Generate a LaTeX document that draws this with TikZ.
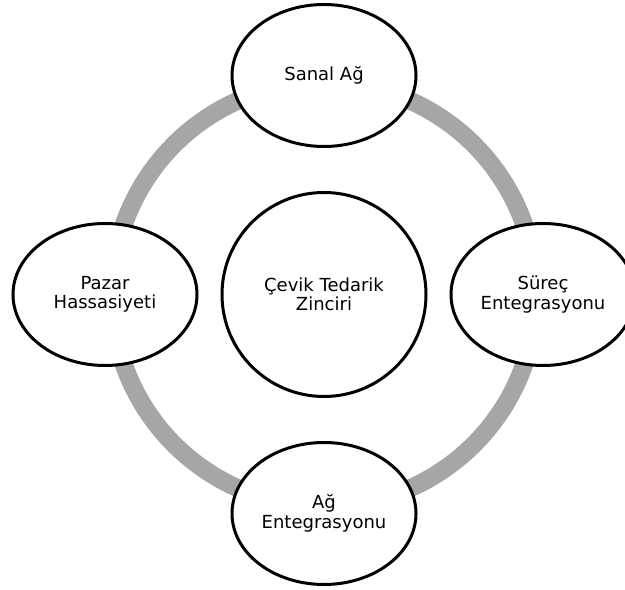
\documentclass[tikz,border=0pt]{standalone}
\usepackage{fontspec}
\setmainfont{DejaVu Sans}
\usetikzlibrary{shapes.geometric}
\definecolor{ringgray}{RGB}{166,166,166}
\begin{document}
\begin{tikzpicture}[x=1bp,y=1bp,
  part/.style={ellipse,draw,line width=3bp,fill=white,minimum width=184bp,minimum height=142bp,inner sep=0pt,align=center,font=\fontsize{18bp}{19.5bp}\selectfont},
  core/.style={circle,draw,line width=3bp,fill=white,minimum size=204bp,inner sep=0pt,align=center,font=\fontsize{18bp}{19.5bp}\selectfont}]
\useasboundingbox (0,0) rectangle (625,590);
\draw [ringgray, line width=18bp] (324,295.5) circle (212);
\node[core] (cevik) at (324,295.5) {Çevik Tedarik\\Zinciri};
\node[part] (sanal) at (324,514.5) {Sanal Ağ};
\node[part] (pazar) at (105,295.5) {Pazar\\Hassasiyeti};
\node[part] (surec) at (543,295.5) {Süreç\\Entegrasyonu};
\node[part] (agent) at (324,76.5) {Ağ\\Entegrasyonu};
\end{tikzpicture}
\end{document}
